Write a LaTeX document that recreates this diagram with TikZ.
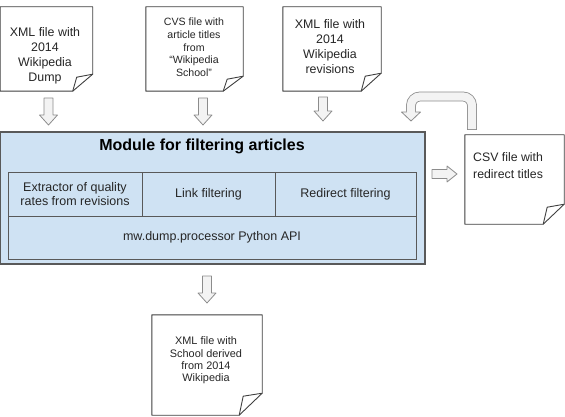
\documentclass[tikz,border=0pt]{standalone}
\usepackage{fontspec}
\setmainfont{Liberation Sans}
\usetikzlibrary{calc}
\definecolor{modfill}{HTML}{CFE2F3}
\definecolor{arrfill}{HTML}{F3F3F3}
\definecolor{arrline}{HTML}{8C8C8C}
\definecolor{docline}{HTML}{404040}
\definecolor{modline}{HTML}{595959}
\tikzset{
  docedge/.style={draw=docline, line width=0.9pt, line join=round},
  docnode/.style={rectangle, draw=none, inner sep=0pt, fill=white},
  txt/.style={align=center, inner sep=0pt, text=black!85},
  barrow/.style={draw=arrline, fill=arrfill, line width=0.8pt, line join=round},
  cellnode/.style={rectangle, draw=modline, line width=0.8pt, inner sep=0pt, align=center,
    font=\fontsize{12.5}{14}\selectfont, text=black!85}
}
\newcommand\docshape[3]{%
  \fill[white] (#1.north west) -- (#1.north east) -- ($(#1.south east)+(0,-#3)$) -- ($(#1.south east)+(-#2,0)$) -- (#1.south west) -- cycle;
  \draw[docedge] (#1.north west) -- (#1.north east) -- ($(#1.south east)+(0,-#3)$) -- ($(#1.south east)+(-#2,0)$) -- (#1.south west) -- cycle;
  \draw[docedge] ($(#1.south east)+(0,-#3)$) -- ($(#1.south east)+({-#2+4},{-#3+3})$) -- ($(#1.south east)+(-#2,0)$);}
\newcommand\downarr[3]{%
  \draw[barrow] ({#1-4.5},#2) -- ({#1+4.5},#2) -- ({#1+4.5},{#3-10}) -- ({#1+9},{#3-10}) -- (#1,#3) -- ({#1-9},{#3-10}) -- ({#1-4.5},{#3-10}) -- cycle;}
\begin{document}
\begin{tikzpicture}[x=1pt,y=-1pt]
\useasboundingbox (0,0) rectangle (565,417);

% documents (top row)
\node[docnode, minimum width=92pt, minimum height=84pt] (d1) at (46.5,49) {};
\docshape{d1}{20}{17}
\node[txt, font=\fontsize{12.4}{15}\selectfont] (d1t) at (45,55.5) {XML file with\\2014\\Wikipedia\\Dump};

\node[docnode, minimum width=97pt, minimum height=84pt] (d2) at (194.5,49) {};
\docshape{d2}{20}{15}
\node[txt, font=\fontsize{10.6}{12.7}\selectfont] (d2t) at (194,47.5) {CVS file with\\article titles\\from\\“Wikipedia\\School”};

\node[docnode, minimum width=98pt, minimum height=84pt] (d3) at (332,49) {};
\docshape{d3}{20}{18}
\node[txt, font=\fontsize{12.4}{15}\selectfont] (d3t) at (330,46.5) {XML file with\\2014\\Wikipedia\\revisions};

% module
\node[rectangle, draw=modline, line width=1.2pt, fill=modfill, minimum width=424.5pt, minimum height=132pt, inner sep=0pt] (mod) at (212.75,198) {};
\node[txt, font=\fontsize{16}{18}\bfseries\selectfont, text=black] (title) at (202,146) {Module for filtering articles};
\node[cellnode, minimum width=134pt, minimum height=44pt] (c1) at (75,194) {Extractor of quality\\rates from revisions};
\node[cellnode, minimum width=133pt, minimum height=44pt] (c2) at (208.5,194) {Link filtering};
\node[cellnode, minimum width=141pt, minimum height=44pt] (c3) at (345.5,194) {Redirect filtering};
\node[cellnode, minimum width=408pt, minimum height=43pt] (c4) at (212,237.5) {mw.dump.processor Python API};

% CSV document
\node[docnode, minimum width=99pt, minimum height=89pt] (csv) at (514.5,179.5) {};
\docshape{csv}{21}{20}
\node[txt, align=left, anchor=north west, font=\fontsize{12.3}{17}\selectfont] (csvt) at (473,152) {CSV file with\\redirect titles};

% bottom document
\node[docnode, minimum width=110pt, minimum height=100pt] (out) at (207,365) {};
\docshape{out}{23}{22}
\node[txt, font=\fontsize{10.9}{12.4}\selectfont] (outt) at (206,360.5) {XML file with\\School derived\\from 2014\\Wikipedia};

% block arrows
\downarr{48.5}{98}{125}
\downarr{203}{98}{125}
\downarr{323}{97}{121}
\downarr{207}{276}{303}
\draw[barrow] (432,169.5) -- (447,169.5) -- (447,166) -- (457,174) -- (447,182) -- (447,178.5) -- (432,178.5) -- cycle;

% u-turn arrow
\draw[arrline, line width=9.8pt, rounded corners=9pt] (472,130) -- (472,96.5) -- (411,96.5) -- (411,112);
\draw[barrow] (401.5,112) -- (420.5,112) -- (411,121) -- cycle;
\draw[arrfill, line width=8.2pt, rounded corners=9pt] (472,129.2) -- (472,96.5) -- (411,96.5) -- (411,112.8);
\end{tikzpicture}
\end{document}
